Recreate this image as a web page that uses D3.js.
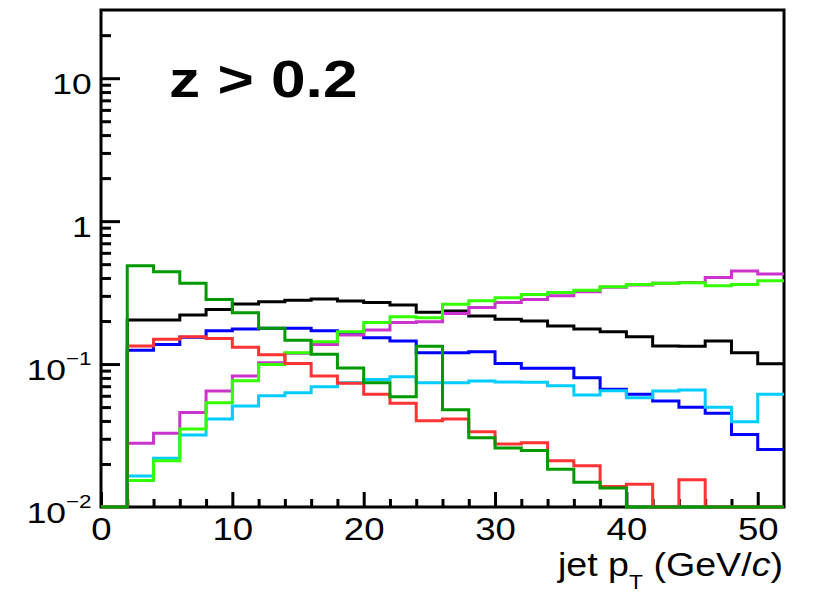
<!DOCTYPE html>
<html><head><meta charset="utf-8">
<script src="https://cdn.jsdelivr.net/npm/d3@7"></script>
<style>body{margin:0;background:#fff}svg{display:block}</style>
</head><body>
<svg id="c" width="815" height="595"></svg>
<script>
// ---- data ----
const binEdges = [0,2,4,6,8,10,12,14,16,18,20,22,24,26,28,30,32,34,36,38,40,42,44,46,48,50,52];
const blackVals   = [0,0.203,0.203,0.220,0.241,0.263,0.273,0.280,0.285,0.276,0.270,0.259,0.230,0.235,0.217,0.206,0.200,0.185,0.176,0.168,0.155,0.134,0.133,0.145,0.120,0.1005];
const blueVals    = [0,0.125,0.137,0.154,0.171,0.176,0.178,0.178,0.171,0.166,0.153,0.145,0.120,0.120,0.122,0.101,0.0933,0.0933,0.0802,0.0666,0.0614,0.0551,0.0498,0.0452,0.0322,0.0253];
const cyanVals    = [0,0.0165,0.0219,0.0319,0.0412,0.0509,0.060,0.063,0.0694,0.074,0.0781,0.0815,0.074,0.074,0.076,0.075,0.0745,0.0705,0.0607,0.0651,0.0581,0.0648,0.0658,0.0498,0.0395,0.0614];
const magentaVals = [0,0.0279,0.0328,0.0459,0.0648,0.0824,0.102,0.119,0.137,0.160,0.173,0.195,0.198,0.226,0.249,0.270,0.283,0.300,0.320,0.344,0.357,0.367,0.372,0.404,0.447,0.426];
const limeVals    = [0,0.0153,0.0211,0.0351,0.0536,0.0764,0.0995,0.120,0.143,0.168,0.195,0.214,0.211,0.262,0.277,0.291,0.307,0.317,0.329,0.347,0.360,0.367,0.370,0.353,0.360,0.383];
const redVals     = [0,0.134,0.149,0.155,0.151,0.131,0.116,0.101,0.0824,0.0735,0.0614,0.0531,0.0401,0.0412,0.0336,0.0276,0.0282,0.0211,0.0194,0.0139,0.0144,0,0.0155,0,0,0];
const greenVals   = [0,0.487,0.442,0.367,0.283,0.229,0.178,0.147,0.117,0.094,0.074,0.059,0.133,0.048,0.0305,0.0259,0.0248,0.0184,0.0149,0.0136,0,0,0,0,0,0];
const xMajorTicks = [0,10,20,30,40,50];
const xMinorTicks = [2,4,6,8,12,14,16,18,22,24,26,28,32,34,36,38,42,44,46,48];
const yMajorTicks = [0.01,0.1,1,10];
const yTickBase = ["10","10","1","10"];
const yTickExp  = ["\u22122","\u22121","",""];
const yMinorTicks = [0.02,0.03,0.04,0.05,0.06,0.07,0.08,0.09,0.2,0.3,0.4,0.5,0.6,0.7,0.8,0.9,2,3,4,5,6,7,8,9,20];
const titleText = "z > 0.2";

// ---- styles ----
const series = [
  {vals: blackVals,   color: "#000000"},
  {vals: blueVals,    color: "#0000ff"},
  {vals: cyanVals,    color: "#00ccff"},
  {vals: magentaVals, color: "#cc33cc"},
  {vals: limeVals,    color: "#33ff00"},
  {vals: redVals,     color: "#ff3333"},
  {vals: greenVals,   color: "#009900"}
];
const FONT = "'Liberation Sans', Arial, Helvetica, sans-serif";
const SX = 1.18; // horizontal stretch of the original's text

const svg = d3.select("#c");
const L = 101, R = 784, T = 10, B = 507;
const x = d3.scaleLinear().domain([0,52]).range([L,R]);
const y = d3.scaleLog().domain([0.01,30]).range([B,T]);

// frame
svg.append("rect").attr("x",L).attr("y",T).attr("width",R-L).attr("height",B-T)
  .attr("fill","none").attr("stroke","#000").attr("stroke-width",3);

// y axis
const gy = svg.append("g").attr("transform",`translate(${L},0)`);
gy.call(d3.axisLeft(y).tickValues(yMinorTicks).tickSizeInner(-10).tickSizeOuter(0).tickFormat(""));
gy.call(g=>g.select(".domain").remove());
const gy2 = svg.append("g").attr("transform",`translate(${L},0)`);
gy2.call(d3.axisLeft(y).tickValues(yMajorTicks).tickSizeInner(-19).tickSizeOuter(0).tickPadding(9).tickFormat(""));
gy2.call(g=>g.select(".domain").remove());
[gy,gy2].forEach(g=>g.selectAll(".tick line").attr("stroke","#000").attr("stroke-width",3));
gy2.selectAll(".tick text").each(function(d,i){
  const t = d3.select(this);
  t.text(null).attr("font-family",FONT).attr("font-size",30).attr("fill","#000")
   .attr("dy","0.5em").attr("transform",`scale(${SX},1)`).attr("x",-8);
  t.append("tspan").text(yTickBase[i]);
  if (yTickExp[i]) t.append("tspan").attr("font-size",19).attr("dy",-15).text(yTickExp[i]);
});

// x axis
const gx = svg.append("g").attr("transform",`translate(0,${B})`);
gx.call(d3.axisBottom(x).tickValues(xMinorTicks).tickSizeInner(-8).tickSizeOuter(0).tickFormat(""));
gx.call(g=>g.select(".domain").remove());
const gx2 = svg.append("g").attr("transform",`translate(0,${B})`);
gx2.call(d3.axisBottom(x).tickValues(xMajorTicks).tickSizeInner(-15).tickSizeOuter(0).tickPadding(11).tickFormat(d3.format("d")));
gx2.call(g=>g.select(".domain").remove());
[gx,gx2].forEach(g=>g.selectAll(".tick line").attr("stroke","#000").attr("stroke-width",3));
gx2.selectAll(".tick text").attr("font-family",FONT).attr("font-size",31).attr("fill","#000")
  .attr("transform",`scale(${SX},1)`);

// histograms
const yv = v => v > 0 ? y(v) : B;
const line = d3.line().x(d=>x(d[0])).y(d=>yv(d[1]));
series.forEach(s=>{
  const pts = [];
  s.vals.forEach((v,i)=>{ pts.push([binEdges[i],v]); pts.push([binEdges[i+1],v]); });
  svg.append("path").attr("d",line(pts)).attr("fill","none")
    .attr("stroke",s.color).attr("stroke-width",3).attr("stroke-linejoin","miter");
});

// title
svg.append("text").attr("transform",`translate(169,97) scale(1.22,1)`)
  .attr("font-family",FONT).attr("font-weight","bold").attr("font-size",51).attr("fill","#000")
  .text(titleText);

// x axis title
const xt = svg.append("text").attr("transform",`translate(783,576) scale(1.14,1)`)
  .attr("text-anchor","end").attr("font-family",FONT).attr("font-size",33).attr("fill","#000");
xt.append("tspan").text("jet p");
xt.append("tspan").attr("font-size",20).attr("dy",13).text("T");
xt.append("tspan").attr("dy",-13).text(" (GeV/");
xt.append("tspan").attr("font-style","italic").text("c");
xt.append("tspan").text(")");
</script>
</body></html>
